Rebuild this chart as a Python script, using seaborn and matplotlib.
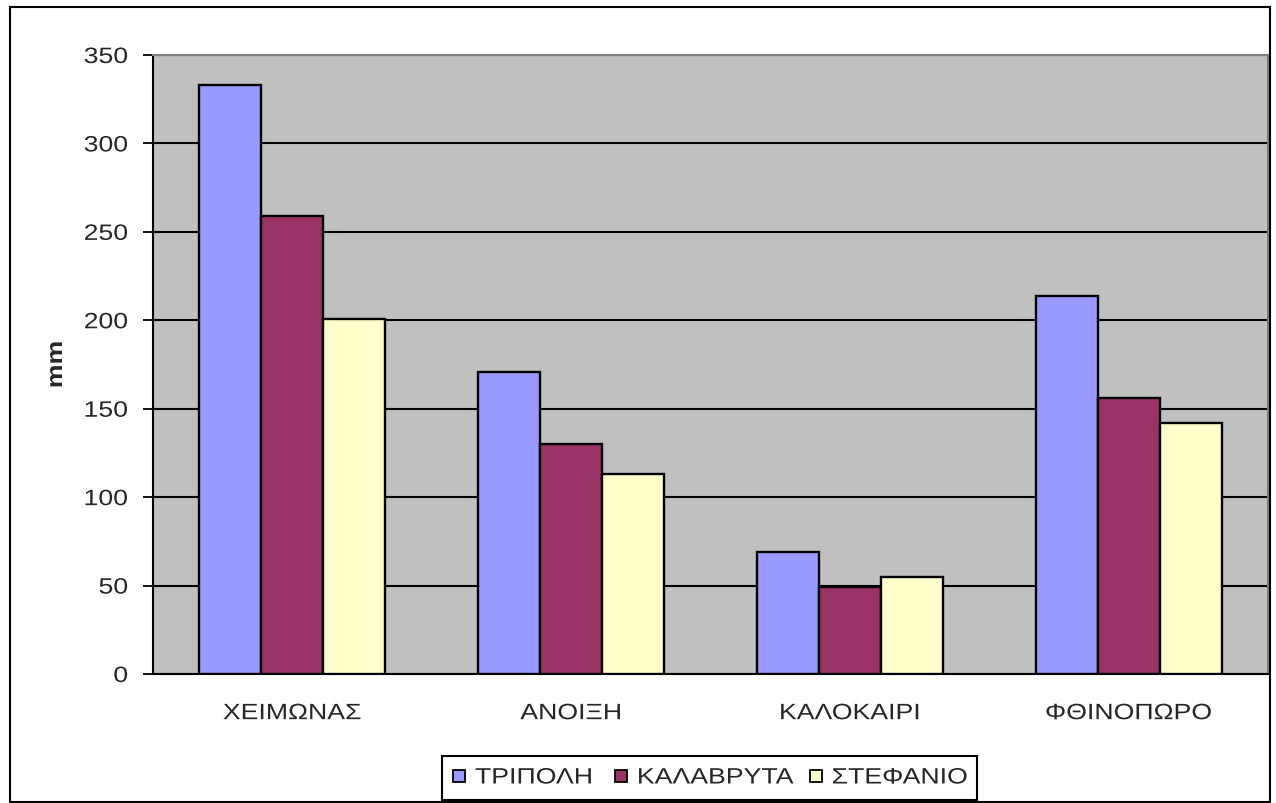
import matplotlib
matplotlib.use("Agg")
import matplotlib.pyplot as plt
from matplotlib.patches import Rectangle
from matplotlib.lines import Line2D
from matplotlib.patheffects import AbstractPathEffect
from matplotlib.transforms import Affine2D
import seaborn as sns
import pandas as pd
import numpy as np

seasons = ["ΧΕΙΜΩΝΑΣ", "ΑΝΟΙΞΗ", "ΚΑΛΟΚΑΙΡΙ", "ΦΘΙΝΟΠΩΡΟ"]
stations = ["ΤΡΙΠΟΛΗ", "ΚΑΛΑΒΡΥΤΑ", "ΣΤΕΦΑΝΙΟ"]
tripoli = [333, 171, 69, 214]
kalavryta = [259, 130, 49, 156]
stefanio = [201, 113, 55, 142]
colors = ["#9999FF", "#993366", "#FFFFCC"]
yticks = [0, 50, 100, 150, 200, 250, 300, 350]


class Stretch(AbstractPathEffect):
    """Draw text glyphs widened along one direction around an anchor."""

    def __init__(self, sx=1.2, sy=1.0, anchor="center"):
        super().__init__()
        self.sx, self.sy, self.anchor = sx, sy, anchor

    def draw_path(self, renderer, gc, tpath, affine, rgbFace=None):
        ext = tpath.transformed(affine).get_extents()
        if self.anchor == "left":
            x0 = ext.x0
        elif self.anchor == "right":
            x0 = ext.x1
        else:
            x0 = 0.5 * (ext.x0 + ext.x1)
        y0 = 0.5 * (ext.y0 + ext.y1)
        t = affine + Affine2D().translate(-x0, -y0).scale(self.sx, self.sy).translate(x0, y0)
        renderer.draw_path(gc, tpath, t, rgbFace)


rows = []
for name, vals in zip(stations, [tripoli, kalavryta, stefanio]):
    for s, v in zip(seasons, vals):
        rows.append({"season": s, "station": name, "mm": v})
df = pd.DataFrame(rows)

sns.set_style("white")
plt.rcParams["font.family"] = ["Liberation Sans", "DejaVu Sans"]
FS = 16
W, H = 1276, 804

fig = plt.figure(figsize=(W / 100, H / 100), dpi=100)
ax = fig.add_axes([153 / W, 1 - 675 / H, (1268 - 153) / W, (675 - 56) / H])
ax.set_facecolor("#C0C0C0")

sns.barplot(data=df, x="season", y="mm", hue="station", order=seasons,
            hue_order=stations, palette=colors, saturation=1, width=0.667,
            gap=0, edgecolor="black", linewidth=1.7, errorbar=None, ax=ax,
            legend=False, zorder=3)

ax.set_xlim(-0.5, 3.5)
ax.set_ylim(0, 350)
ax.set_yticks(yticks)
ax.set_yticklabels([str(t) for t in yticks], fontsize=FS)
ax.yaxis.grid(True, color="black", linewidth=1.5, zorder=1)
ax.set_axisbelow(True)

ax.set_xticks(range(len(seasons)))
ax.set_xticklabels(seasons, fontsize=FS)
ax.set_xticks(np.arange(-0.5, 3.6, 1.0), minor=True)
ax.tick_params(axis="x", which="major", length=0, pad=21)
ax.tick_params(axis="x", which="minor", length=7.2, width=1.3, color="black",
               direction="out")
ax.tick_params(axis="y", length=7.2, width=1.3, color="black", direction="out",
               left=True, pad=10.8)
ax.set_xlabel("")
ax.set_ylabel("mm", fontsize=FS, fontweight="bold")
ax.yaxis.set_label_coords(-86 / 1115, 0.5)

for lab in ax.get_xticklabels():
    lab.set_path_effects([Stretch(1.2, 1.0, "center")])
for lab in ax.get_yticklabels():
    lab.set_path_effects([Stretch(1.2, 1.0, "right")])
ax.yaxis.label.set_path_effects([Stretch(1.0, 1.2, "center")])

for side in ["left", "bottom"]:
    ax.spines[side].set_color("black")
    ax.spines[side].set_linewidth(1.5)
for side in ["top", "right"]:
    ax.spines[side].set_color("#808080")
    ax.spines[side].set_linewidth(1.5)

# legend: entries laid out by matplotlib, frame drawn around them
handles = [Line2D([], [], marker="s", linestyle="none", markersize=9,
                  markerfacecolor=c, markeredgecolor="black",
                  markeredgewidth=1.3) for c in colors]
leg = fig.legend(handles, stations, loc="center left", ncol=3,
                 bbox_to_anchor=(451.5 / W, 1 - 779 / H),
                 fontsize=FS, frameon=False, handlelength=0.7,
                 handletextpad=0.36, columnspacing=1.8, borderpad=0,
                 borderaxespad=0)
for t in leg.get_texts():
    t.set_path_effects([Stretch(1.2, 1.0, "left")])
fig.patches.append(Rectangle((442 / W, 1 - 801 / H), (977 - 442) / W, 44 / H,
                             transform=fig.transFigure, fill=False,
                             edgecolor="black", linewidth=1.5))

# chart area border
fig.patches.append(Rectangle((10 / W, 1 / H), 1260 / W, 795 / H,
                             transform=fig.transFigure, fill=False,
                             edgecolor="black", linewidth=1.5))

fig.savefig("out.png", dpi=100)
